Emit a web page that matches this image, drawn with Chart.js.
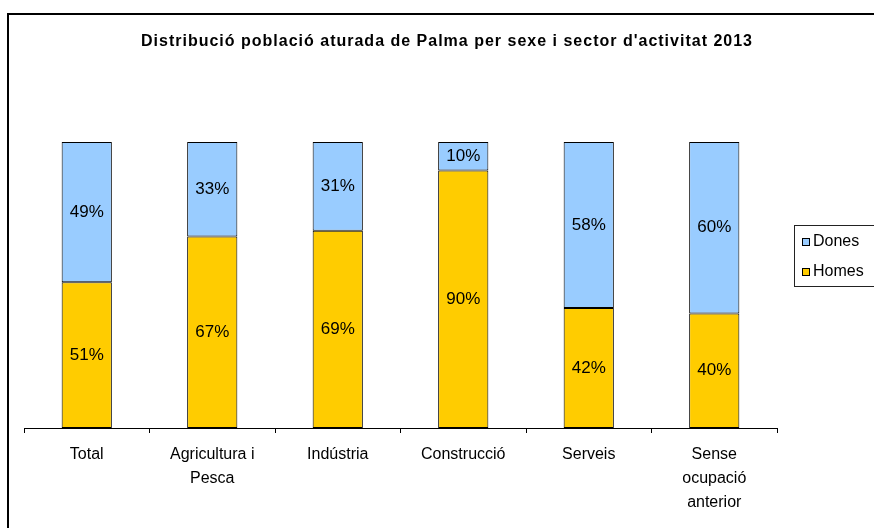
<!DOCTYPE html>
<html>
<head>
<meta charset="utf-8">
<script src="https://cdn.jsdelivr.net/npm/chart.js@4.4.0/dist/chart.umd.min.js"></script>
<style>
    html, body { margin: 0; padding: 0; background: #fff; }
    canvas { display: block; }
</style>
</head>
<body>
<canvas id="atur" width="874" height="528"></canvas>
<script>
const sectors = ['Total', ['Agricultura i', 'Pesca'], 'Indústria', 'Construcció', 'Serveis', ['Sense', 'ocupació', 'anterior']];
const homes = [51, 67, 69, 90, 42, 40];
const dones = [49, 33, 31, 10, 58, 60];
const yTicks = [0, 100];

const FONT = "'Liberation Sans', Arial, sans-serif";

// Outer frame (only top and left edges fall inside the canvas)
const framePlugin = {
    id: 'frame',
    beforeDraw(chart) {
        const ctx = chart.ctx;
        ctx.save();
        ctx.fillStyle = '#fff';
        ctx.fillRect(0, 0, chart.width, chart.height);
        ctx.strokeStyle = '#000';
        ctx.lineWidth = 2;
        ctx.beginPath();
        ctx.moveTo(8, chart.height + 5);
        ctx.lineTo(8, 14);
        ctx.lineTo(chart.width + 5, 14);
        ctx.stroke();
        ctx.restore();
    }
};

const titlePlugin = {
    id: 'heading',
    afterDraw(chart) {
        const ctx = chart.ctx;
        ctx.save();
        ctx.font = 'bold 16px ' + FONT;
        ctx.letterSpacing = '1px';
        ctx.fillStyle = '#000';
        ctx.textAlign = 'center';
        ctx.textBaseline = 'middle';
        ctx.fillText("Distribució població aturada de Palma per sexe i sector d'activitat 2013", 447, 42);
        ctx.restore();
    }
};

// Percent labels centred in each segment
const valueLabels = {
    id: 'valueLabels',
    afterDatasetsDraw(chart) {
        const ctx = chart.ctx;
        ctx.save();
        ctx.font = '17px ' + FONT;
        ctx.fillStyle = '#000';
        ctx.textAlign = 'center';
        ctx.textBaseline = 'middle';
        chart.data.datasets.forEach((ds, i) => {
            chart.getDatasetMeta(i).data.forEach((bar, j) => {
                const p = bar.getProps(['x', 'y', 'base'], true);
                ctx.fillText(ds.data[j] + '%', p.x, (p.y + p.base) / 2);
            });
        });
        ctx.restore();
    }
};

// Boxed legend on the right, top series listed first
const sideLegend = {
    id: 'sideLegend',
    afterDraw(chart) {
        const ctx = chart.ctx;
        ctx.save();
        ctx.strokeStyle = '#222';
        ctx.lineWidth = 1;
        ctx.strokeRect(794.5, 225.5, 82, 61);
        ctx.font = '16px ' + FONT;
        ctx.textBaseline = 'middle';
        const items = chart.data.datasets.slice().reverse();
        items.forEach((ds, k) => {
            const y = 242 + k * 30;
            ctx.fillStyle = ds.backgroundColor;
            ctx.fillRect(802.5, y - 3.5, 7, 7);
            ctx.strokeStyle = '#000';
            ctx.strokeRect(802.5, y - 3.5, 7, 7);
            ctx.fillStyle = '#000';
            ctx.fillText(ds.label, 813, y);
        });
        ctx.restore();
    }
};

new Chart(document.getElementById('atur'), {
    type: 'bar',
    data: {
        labels: sectors,
        datasets: [
            { label: 'Homes', data: homes, backgroundColor: '#FFCC00', borderColor: '#000', borderWidth: 1, borderSkipped: false },
            { label: 'Dones', data: dones, backgroundColor: '#99CCFF', borderColor: '#000', borderWidth: 1, borderSkipped: false }
        ]
    },
    options: {
        responsive: false,
        animation: false,
        layout: { padding: { left: 24, right: 97, top: 142, bottom: 0 } },
        datasets: { bar: { categoryPercentage: 1, barPercentage: 0.4 } },
        plugins: {
            legend: { display: false },
            title: { display: false },
            tooltip: { enabled: false }
        },
        scales: {
            x: {
                stacked: true,
                afterFit(scale) { scale.height = 100; },
                grid: { offset: true, drawOnChartArea: false, drawTicks: true, tickLength: 5, color: '#000' },
                border: { display: true, color: '#000', width: 1 },
                ticks: { color: '#000', padding: 10, font: { family: FONT, size: 16, lineHeight: 1.5 }, maxRotation: 0, autoSkip: false }
            },
            y: {
                stacked: true,
                display: false,
                min: yTicks[0],
                max: yTicks[1]
            }
        }
    },
    plugins: [framePlugin, titlePlugin, valueLabels, sideLegend]
});
</script>
</body>
</html>
